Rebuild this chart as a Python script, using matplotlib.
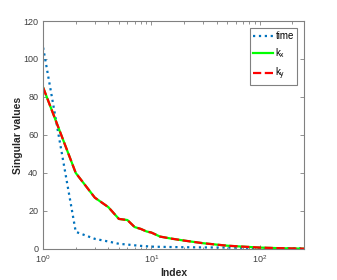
import matplotlib.pyplot as plt

# indices (1-based, like MATLAB) at which the singular values are read
idx = [1, 2, 3, 4, 5, 6, 7, 8, 9, 10, 12, 15, 20, 30, 50, 70, 100, 150, 200, 256]

# singular values
time_sv = [106, 9, 5.3, 3.9, 2.7, 2.3, 1.9, 1.6, 1.4, 1.2, 1.1, 1.0, 0.9, 0.8, 0.7, 0.6, 0.5, 0.4, 0.35, 0.3]
kx_sv = [85, 40, 27, 22, 15.8, 15.2, 11.5, 10.5, 9.2, 8.6, 6.5, 5.5, 4.4, 3.0, 1.7, 1.2, 0.7, 0.4, 0.25, 0.15]
ky_sv = [85, 40, 27, 22, 15.8, 15.2, 11.5, 10.5, 9.2, 8.6, 6.5, 5.5, 4.4, 3.0, 1.7, 1.2, 0.7, 0.4, 0.25, 0.15]

plt.rcParams['font.family'] = ['Liberation Sans', 'DejaVu Sans']
plt.rcParams['mathtext.fontset'] = 'custom'
plt.rcParams['mathtext.rm'] = 'Liberation Sans'

fig = plt.figure(figsize=(3.37, 2.80), dpi=100)
ax = fig.add_axes([0.128, 0.111, 0.774, 0.814])

ax.plot(idx, time_sv, ':', color=(0, 0.447, 0.741), lw=1.6, label='time')
ax.plot(idx, kx_sv, '-', color=(0, 1, 0), lw=1.6, label='k$_\\mathregular{x}$')
ax.plot(idx, ky_sv, '--', color=(1, 0, 0), lw=1.6, label='k$_\\mathregular{y}$')

ax.set_xscale('log')
ax.set_xlim(1, 256)
ax.set_ylim(0, 120)
ax.set_yticks([0, 20, 40, 60, 80, 100, 120])

ax.set_xlabel('Index', fontsize=7.5, fontweight='bold', color='#262626', labelpad=2)
ax.set_ylabel('Singular values', fontsize=7.5, fontweight='bold', color='#262626', labelpad=0)

for s in ax.spines.values():
    s.set_color('#808080')
    s.set_linewidth(0.8)
ax.tick_params(which='both', direction='in', top=True, right=True,
               colors='#808080', labelcolor='#404040', labelsize=6.5)
ax.tick_params(which='major', length=3, width=0.6)
ax.tick_params(which='minor', length=1.8, width=0.6)

leg = ax.legend(loc='upper right', fontsize=7, fancybox=False, framealpha=1,
                edgecolor='#808080', handlelength=2.1, handletextpad=0.2,
                borderpad=0.3, labelspacing=0.55, borderaxespad=0.75)
leg.get_frame().set_linewidth(0.8)

fig.savefig('out.png', dpi=100)
